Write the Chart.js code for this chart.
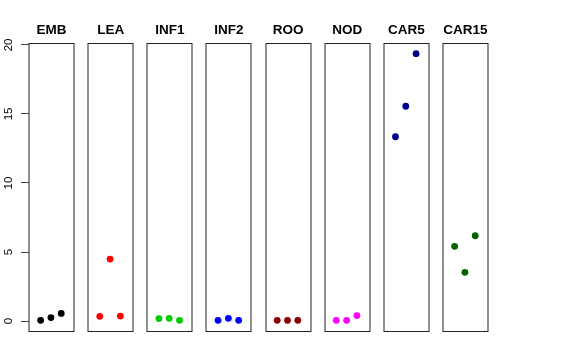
<!DOCTYPE html>
<html>
<head>
<meta charset="utf-8">
<script src="https://cdn.jsdelivr.net/npm/chart.js@4/dist/chart.umd.min.js"></script>
<style>
  html, body { margin: 0; padding: 0; background: #ffffff; }
  #wrap { width: 576px; height: 360px; position: relative; }
</style>
</head>
<body>
<div id="wrap"><canvas id="c" width="576" height="360"></canvas></div>
<script>
// ---- data ----
const categories = ['EMB', 'LEA', 'INF1', 'INF2', 'ROO', 'NOD', 'CAR5', 'CAR15'];
const embValues   = [0.05, 0.25, 0.55];
const leaValues   = [0.34, 4.49, 0.36];
const inf1Values  = [0.18, 0.20, 0.05];
const inf2Values  = [0.05, 0.20, 0.05];
const rooValues   = [0.05, 0.05, 0.05];
const nodValues   = [0.05, 0.05, 0.40];
const car5Values  = [13.35, 15.56, 19.37];
const car15Values = [5.41, 3.53, 6.18];
const seriesValues = [embValues, leaValues, inf1Values, inf2Values, rooValues, nodValues, car5Values, car15Values];
const seriesColors = ['#000000', '#FF0000', '#00CD00', '#0000FF', '#8B0000', '#FF00FF', '#00008B', '#006400'];
const yTicks = [0, 5, 10, 15, 20];

// ---- panel layout (x units) ----
const panelLo = -0.13, panelHi = 4.24, panelPitch = 5.743;
const yMin = -0.72, yMax = 20.14;

const datasets = categories.map((name, i) => ({
  label: name,
  data: seriesValues[i].map((v, j) => ({ x: i * panelPitch + (j + 1), y: v })),
  backgroundColor: seriesColors[i],
  borderColor: seriesColors[i],
  pointRadius: 3.4,
  pointBorderWidth: 0,
  pointHoverRadius: 3.4
}));

const panelPlugin = {
  id: 'panels',
  afterDatasetsDraw(chart) {
    const ctx = chart.ctx;
    const xs = chart.scales.x, ys = chart.scales.y;
    const top = Math.round(ys.getPixelForValue(yMax));
    const bottom = Math.round(ys.getPixelForValue(yMin));
    ctx.save();
    ctx.strokeStyle = '#222';
    ctx.lineWidth = 1;
    ctx.fillStyle = '#000';
    ctx.font = 'bold 13.5px "Liberation Sans", Arial, sans-serif';
    ctx.textAlign = 'center';
    ctx.textBaseline = 'alphabetic';
    categories.forEach((name, i) => {
      const l = xs.getPixelForValue(i * panelPitch + panelLo);
      const r = xs.getPixelForValue(i * panelPitch + panelHi);
      ctx.strokeRect(Math.round(l), top + 0.5, Math.round(r) - Math.round(l), bottom - top);
      ctx.fillText(name, (l + r) / 2, 34);
    });
    ctx.restore();
  }
};

new Chart(document.getElementById('c'), {
  type: 'scatter',
  data: { datasets },
  options: {
    responsive: false,
    animation: false,
    events: [],
    layout: { padding: { left: 0, top: 43, right: 88, bottom: 29 } },
    plugins: { legend: { display: false }, tooltip: { enabled: false }, title: { display: false } },
    scales: {
      x: {
        type: 'linear',
        display: false,
        min: panelLo,
        max: 7 * panelPitch + panelHi
      },
      y: {
        type: 'linear',
        position: 'left',
        min: yMin,
        max: yMax,
        afterBuildTicks: (scale) => { scale.ticks = yTicks.map(v => ({ value: v })); },
        afterFit: (scale) => { scale.width = 29; },
        border: { display: false },
        grid: { drawOnChartArea: false, drawTicks: true, tickLength: 8, color: '#444', lineWidth: 1 },
        ticks: {
          minRotation: 90,
          maxRotation: 90,
          crossAlign: 'center',
          padding: 6,
          color: '#000',
          font: { family: '"Liberation Sans", Arial, sans-serif', size: 11.5 },
          callback: (v) => String(v)
        }
      }
    }
  },
  plugins: [panelPlugin]
});
</script>
</body>
</html>
